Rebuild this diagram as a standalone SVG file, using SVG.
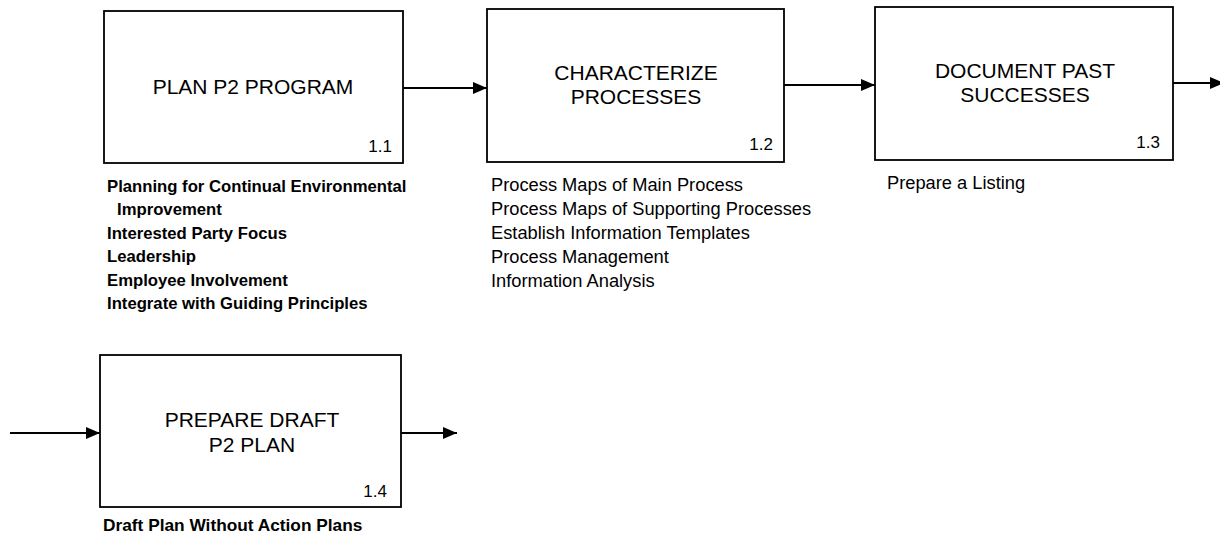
<svg xmlns="http://www.w3.org/2000/svg" width="1220" height="540" viewBox="0 0 1220 540">
<defs>
<marker id="arr" viewBox="0 0 14 12" refX="14" refY="6" markerWidth="14" markerHeight="12" markerUnits="userSpaceOnUse" orient="auto">
<path d="M0,0 L14,6 L0,12 Z" fill="#000"/>
</marker>
<style>
.box{fill:#fff;stroke:#000;stroke-width:1.8}
.title{font-family:"Liberation Sans",Arial,sans-serif;font-size:21px;text-anchor:middle;fill:#000}
.num{font-family:"Liberation Sans",Arial,sans-serif;font-size:17px;text-anchor:end;fill:#000}
.list{font-family:"Liberation Sans",Arial,sans-serif;font-size:18.3px;fill:#000}
.blist{font-family:"Liberation Sans",Arial,sans-serif;font-size:16.7px;font-weight:bold;fill:#000}
.conn{stroke:#000;stroke-width:2;fill:none}
</style>
</defs>
<rect width="1220" height="540" fill="#fff"/>
<g id="connectors">
<line class="conn" x1="403" y1="88" x2="487" y2="88" marker-end="url(#arr)"/>
<line class="conn" x1="784" y1="85" x2="875" y2="85" marker-end="url(#arr)"/>
<line class="conn" x1="1173" y1="83" x2="1224" y2="83" marker-end="url(#arr)"/>
<line class="conn" x1="10" y1="433" x2="100" y2="433" marker-end="url(#arr)"/>
<line class="conn" x1="401" y1="433" x2="457" y2="433" marker-end="url(#arr)"/>
</g>
<g id="node-1-1">
<rect class="box" x="104" y="11" width="299" height="152"/>
<text class="title" x="253" y="94">PLAN P2 PROGRAM</text>
<text class="num" x="392" y="152">1.1</text>
<text class="blist" x="107" y="192">Planning for Continual Environmental</text>
<text class="blist" x="117" y="215">Improvement</text>
<text class="blist" x="107" y="239">Interested Party Focus</text>
<text class="blist" x="107" y="262">Leadership</text>
<text class="blist" x="107" y="286">Employee Involvement</text>
<text class="blist" x="107" y="309">Integrate with Guiding Principles</text>
</g>
<g id="node-1-2">
<rect class="box" x="487" y="9" width="297" height="153"/>
<text class="title" x="636" y="80">CHARACTERIZE</text>
<text class="title" x="636" y="104">PROCESSES</text>
<text class="num" x="773" y="150">1.2</text>
<text class="list" x="491" y="191">Process Maps of Main Process</text>
<text class="list" x="491" y="215">Process Maps of Supporting Processes</text>
<text class="list" x="491" y="239">Establish Information Templates</text>
<text class="list" x="491" y="263">Process Management</text>
<text class="list" x="491" y="287">Information Analysis</text>
</g>
<g id="node-1-3">
<rect class="box" x="875" y="7" width="298" height="153"/>
<text class="title" x="1025" y="78">DOCUMENT PAST</text>
<text class="title" x="1025" y="102">SUCCESSES</text>
<text class="num" x="1160" y="148">1.3</text>
<text class="list" x="887" y="189">Prepare a Listing</text>
</g>
<g id="node-1-4">
<rect class="box" x="100" y="355" width="301" height="152"/>
<text class="title" x="252" y="427">PREPARE DRAFT</text>
<text class="title" x="252" y="452">P2 PLAN</text>
<text class="num" x="387" y="497">1.4</text>
<text class="blist" x="103" y="531" style="font-size:17.3px">Draft Plan Without Action Plans</text>
</g>
</svg>
